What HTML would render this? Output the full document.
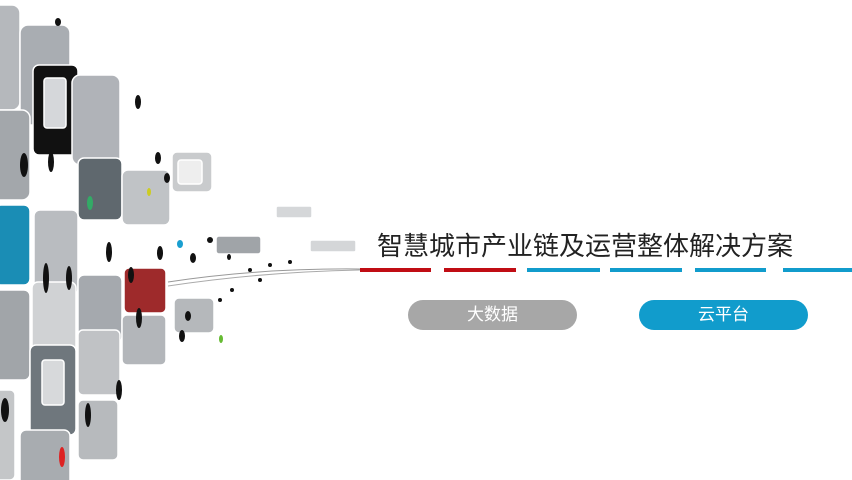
<!DOCTYPE html>
<html><head><meta charset="utf-8"><style>
html,body{margin:0;padding:0;background:#fff;}
body{width:852px;height:480px;position:relative;overflow:hidden;font-family:"Liberation Sans","Noto Sans CJK SC",sans-serif;}
.t{position:absolute;left:377px;top:226px;font-size:26px;color:#222;white-space:nowrap;letter-spacing:0px;}
.seg{position:absolute;top:268px;height:4px;}
.btn{position:absolute;top:300px;height:30px;border-radius:15px;color:#fff;font-size:17px;text-align:center;line-height:30px;}
</style></head><body>
<svg width="360" height="480" style="position:absolute;left:0;top:0">
<g stroke="#fff" stroke-width="1.5">
<rect x="-10" y="5" width="30" height="105" rx="8" fill="#b5b8bc"/>
<rect x="20" y="25" width="50" height="100" rx="8" fill="#a9adb2"/>
<rect x="33" y="65" width="45" height="90" rx="6" fill="#111"/>
<rect x="44" y="78" width="22" height="50" rx="3" fill="#d5d7da"/>
<rect x="72" y="75" width="48" height="90" rx="8" fill="#b0b3b8"/>
<rect x="78" y="158" width="44" height="62" rx="6" fill="#5f686e"/>
<rect x="122" y="170" width="48" height="55" rx="6" fill="#c0c3c6"/>
<rect x="-10" y="110" width="40" height="90" rx="8" fill="#a3a7ab"/>
<rect x="-5" y="205" width="35" height="80" rx="6" fill="#1a8db5"/>
<rect x="34" y="210" width="44" height="85" rx="6" fill="#b9bcc0"/>
<rect x="-10" y="290" width="40" height="90" rx="6" fill="#a1a5a9"/>
<rect x="32" y="282" width="44" height="80" rx="6" fill="#d0d2d4"/>
<rect x="78" y="275" width="44" height="68" rx="6" fill="#a5a9ae"/>
<rect x="124" y="268" width="42" height="45" rx="5" fill="#9e2a2b"/>
<rect x="122" y="315" width="44" height="50" rx="5" fill="#b3b6ba"/>
<rect x="78" y="330" width="42" height="65" rx="5" fill="#c0c2c5"/>
<rect x="30" y="345" width="46" height="90" rx="6" fill="#6f777d"/>
<rect x="42" y="360" width="22" height="45" rx="3" fill="#d7d9db"/>
<rect x="-10" y="390" width="25" height="90" rx="5" fill="#c4c6c8"/>
<rect x="20" y="430" width="50" height="60" rx="6" fill="#a8acb0"/>
<rect x="78" y="400" width="40" height="60" rx="5" fill="#b7babd"/>
<rect x="172" y="152" width="40" height="40" rx="5" fill="#c9cbcd"/>
<rect x="178" y="160" width="24" height="24" rx="3" fill="#eee"/>
<rect x="174" y="298" width="40" height="35" rx="5" fill="#b5b8bb"/>
<rect x="216" y="236" width="45" height="18" rx="3" fill="#a0a4a8"/>
<rect x="276" y="206" width="36" height="12" rx="2" fill="#d5d7d9"/>
<rect x="310" y="240" width="46" height="12" rx="2" fill="#d4d6d8"/>
</g>
<g fill="#111">
<ellipse cx="58" cy="22" rx="3" ry="4"/><ellipse cx="138" cy="102" rx="3" ry="7"/>
<ellipse cx="24" cy="165" rx="4" ry="12"/><ellipse cx="51" cy="162" rx="3" ry="10"/>
<ellipse cx="158" cy="158" rx="3" ry="6"/><ellipse cx="167" cy="178" rx="3" ry="5"/>
<ellipse cx="109" cy="252" rx="3" ry="10"/><ellipse cx="160" cy="253" rx="3" ry="7"/>
<ellipse cx="193" cy="258" rx="3" ry="5"/><ellipse cx="46" cy="278" rx="3" ry="15"/>
<ellipse cx="69" cy="278" rx="3" ry="12"/><ellipse cx="131" cy="275" rx="3" ry="8"/>
<ellipse cx="139" cy="318" rx="3" ry="10"/><ellipse cx="5" cy="410" rx="4" ry="12"/>
<ellipse cx="88" cy="415" rx="3" ry="12"/><ellipse cx="119" cy="390" rx="3" ry="10"/>
<ellipse cx="210" cy="240" rx="3" ry="3"/><ellipse cx="229" cy="257" rx="2" ry="3"/>
<ellipse cx="182" cy="336" rx="3" ry="6"/><ellipse cx="188" cy="316" rx="3" ry="5"/>
<ellipse cx="250" cy="270" rx="2" ry="2"/><ellipse cx="270" cy="265" rx="2" ry="2"/>
<ellipse cx="290" cy="262" rx="2" ry="2"/><ellipse cx="232" cy="290" rx="2" ry="2"/>
<ellipse cx="260" cy="280" rx="2" ry="2"/><ellipse cx="220" cy="300" rx="2" ry="2"/>
</g>
<ellipse cx="62" cy="457" rx="3" ry="10" fill="#d22"/>
<ellipse cx="180" cy="244" rx="3" ry="4" fill="#1a9fd0"/>
<ellipse cx="149" cy="192" rx="2" ry="4" fill="#cc2"/>
<ellipse cx="221" cy="339" rx="2" ry="4" fill="#6b3"/>
<ellipse cx="90" cy="203" rx="3" ry="7" fill="#3a6"/>
<path d="M168 282 Q260 268 360 269" stroke="#999" stroke-width="1" fill="none"/>
<path d="M168 286 Q260 272 360 270" stroke="#aaa" stroke-width="1" fill="none"/>
</svg>
<div class="t">智慧城市产业链及运营整体解决方案</div>
<div class="seg" style="left:360px;width:71px;background:#c00d14"></div>
<div class="seg" style="left:444px;width:72px;background:#c00d14"></div>
<div class="seg" style="left:527px;width:73px;background:#119ccc"></div>
<div class="seg" style="left:610px;width:72px;background:#119ccc"></div>
<div class="seg" style="left:695px;width:71px;background:#119ccc"></div>
<div class="seg" style="left:783px;width:69px;background:#119ccc"></div>
<div class="btn" style="left:408px;width:169px;background:#a7a7a7">大数据</div>
<div class="btn" style="left:639px;width:169px;background:#119ccc">云平台</div>
</body></html>
